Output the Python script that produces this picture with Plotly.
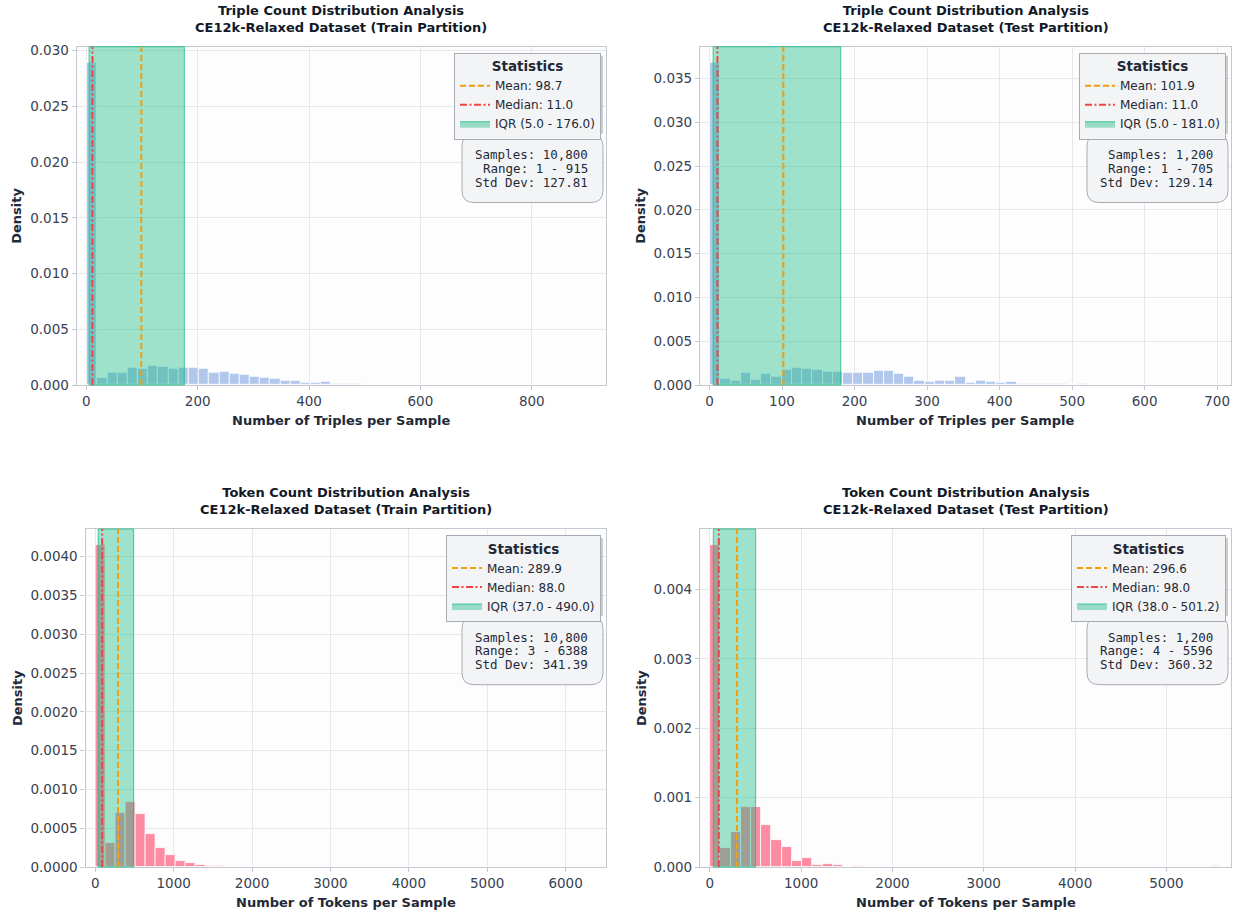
import numpy as np
import plotly.graph_objects as go

FIG_W, FIG_H = 1239, 917

# ---------------------------------------------------------------------------
# Histogram densities: 50 equal-width bins spanning [min, max] of each split
# ---------------------------------------------------------------------------
triple_train_density = [
    0.02890, 0.00065, 0.00113, 0.00107, 0.00152, 0.00143, 0.00170, 0.00164, 0.00150, 0.00152,
    0.00157, 0.00143, 0.00111, 0.00116, 0.00098, 0.00089, 0.00074, 0.00065, 0.00054, 0.00042,
    0.00036, 0.00024, 0.00021, 0.00027, 0.00015, 0.00009, 0.00011, 0.00006, 0.00003, 0.00002,
    0.00002, 0.00001, 0.00001, 0.00001, 0.00000, 0.00001, 0.00000, 0.00000, 0.00001, 0.00000,
    0.00000, 0.00000, 0.00000, 0.00000, 0.00000, 0.00000, 0.00000, 0.00000, 0.00000, 0.00001,
]
triple_test_density = [
    0.03680, 0.00068, 0.00046, 0.00140, 0.00059, 0.00125, 0.00091, 0.00179, 0.00198, 0.00182,
    0.00173, 0.00156, 0.00152, 0.00142, 0.00142, 0.00136, 0.00158, 0.00158, 0.00131, 0.00091,
    0.00047, 0.00036, 0.00047, 0.00047, 0.00097, 0.00024, 0.00047, 0.00036, 0.00021, 0.00036,
    0.00012, 0.00012, 0.00012, 0.00012, 0.00015, 0.00006, 0.00012, 0.00000, 0.00006, 0.00006,
    0.00000, 0.00000, 0.00006, 0.00000, 0.00000, 0.00000, 0.00000, 0.00000, 0.00000, 0.00006,
]
token_train_density = [
    0.004150, 0.000310, 0.000700, 0.000840, 0.000680, 0.000420, 0.000240, 0.000150, 0.000080, 0.000050,
    0.000028, 0.000016, 0.000010, 0.000006, 0.000004, 0.000003, 0.000002, 0.000002, 0.000001, 0.000001,
    0.000001, 0.000000, 0.000001, 0.000000, 0.000000, 0.000000, 0.000000, 0.000000, 0.000000, 0.000000,
    0.000000, 0.000000, 0.000000, 0.000000, 0.000000, 0.000000, 0.000000, 0.000000, 0.000000, 0.000000,
    0.000000, 0.000000, 0.000000, 0.000000, 0.000000, 0.000000, 0.000000, 0.000000, 0.000000, 0.000001,
]
token_test_density = [
    0.004640, 0.000280, 0.000510, 0.000870, 0.000870, 0.000600, 0.000395, 0.000290, 0.000090, 0.000130,
    0.000030, 0.000045, 0.000022, 0.000000, 0.000015, 0.000000, 0.000000, 0.000000, 0.000000, 0.000000,
    0.000000, 0.000000, 0.000000, 0.000000, 0.000000, 0.000000, 0.000000, 0.000000, 0.000000, 0.000000,
    0.000000, 0.000000, 0.000000, 0.000000, 0.000000, 0.000000, 0.000000, 0.000000, 0.000000, 0.000000,
    0.000000, 0.000000, 0.000000, 0.000000, 0.000000, 0.000000, 0.000000, 0.000000, 0.000000, 0.0000075,
]

# Summary statistics per panel (triple-train, triple-test, token-train, token-test)
sample_counts = [10800, 1200, 10800, 1200]
value_min = [1, 1, 3, 4]
value_max = [915, 705, 6388, 5596]
means = [98.7, 101.9, 289.9, 296.6]
medians = [11.0, 11.0, 88.0, 98.0]
q1s = [5.0, 5.0, 37.0, 38.0]
q3s = [176.0, 181.0, 490.0, 501.2]
std_devs = [127.81, 129.14, 341.39, 360.32]

titles = [
    "Triple Count Distribution Analysis<br>CE12k-Relaxed Dataset (Train Partition)",
    "Triple Count Distribution Analysis<br>CE12k-Relaxed Dataset (Test Partition)",
    "Token Count Distribution Analysis<br>CE12k-Relaxed Dataset (Train Partition)",
    "Token Count Distribution Analysis<br>CE12k-Relaxed Dataset (Test Partition)",
]
x_titles = [
    "Number of Triples per Sample",
    "Number of Triples per Sample",
    "Number of Tokens per Sample",
    "Number of Tokens per Sample",
]
densities = [triple_train_density, triple_test_density, token_train_density, token_test_density]
bar_colors = ["#b1c8ec", "#b1c8ec", "#fd8ca2", "#fd8ca2"]
x_dticks = [200, 100, 1000, 1000]
y_dticks = [0.005, 0.005, 0.0005, 0.001]
y_formats = [".3f", ".3f", ".4f", ".3f"]

# ---------------------------------------------------------------------------
# Panel geometry (pixels in the 1239x917 canvas)
# ---------------------------------------------------------------------------
plot_px = [  # left, right, top, bottom
    (76.7, 606.0, 46.7, 385.0),
    (700.0, 1231.0, 46.7, 385.0),
    (85.5, 606.0, 529.0, 867.0),
    (700.0, 1231.0, 529.0, 867.0),
]
legend_width_px = [147, 147, 157, 157]
legend_height_px = 79


def px_x(v):
    return v / FIG_W


def px_y(v):
    return 1 - v / FIG_H


def rounded_box(x0, y0, x1, y1, r):
    """SVG path (paper coords) for a rounded rectangle given in pixels."""

    def P(x, y):
        return f"{px_x(x):.5f},{px_y(y):.5f}"

    return " ".join([
        f"M {P(x0 + r, y0)}",
        f"L {P(x1 - r, y0)}",
        f"Q {P(x1, y0)} {P(x1, y0 + r)}",
        f"L {P(x1, y1 - r)}",
        f"Q {P(x1, y1)} {P(x1 - r, y1)}",
        f"L {P(x0 + r, y1)}",
        f"Q {P(x0, y1)} {P(x0, y1 - r)}",
        f"L {P(x0, y0 + r)}",
        f"Q {P(x0, y0)} {P(x0 + r, y0)} Z",
    ])


FONT = "DejaVu Sans"
MONO = "DejaVu Sans Mono"
TICK_COLOR = "#374151"
TEXT_DARK = "#1f2937"
GRID = "#e6e8ec"
SPINE = "#c4c8d0"
MEAN_COLOR = "#f59e0b"
MEDIAN_COLOR = "#ef4444"
IQR_FILL = "rgba(16,185,129,0.40)"
IQR_EDGE = "rgba(16,185,129,0.75)"
BOX_FILL = "#f3f4f6"
BOX_EDGE = "#a7abb4"

fig = go.Figure()
shapes = []
annotations = []

for i in range(4):
    n = "" if i == 0 else str(i + 1)
    xa, ya = f"x{n}", f"y{n}"
    legend_id = "legend" if i == 0 else f"legend{i + 1}"
    left, right, top, bottom = plot_px[i]

    lo, hi = value_min[i], value_max[i]
    dens = np.array(densities[i], dtype=float)
    edges = np.linspace(lo, hi, len(dens) + 1)
    centers = (edges[:-1] + edges[1:]) / 2
    bin_w = edges[1] - edges[0]
    span = hi - lo

    fig.add_trace(go.Bar(
        x=centers, y=dens, width=bin_w,
        marker=dict(color=bar_colors[i], line=dict(color="white", width=0.8)),
        xaxis=xa, yaxis=ya, showlegend=False, hoverinfo="skip",
    ))

    # legend entries
    fig.add_trace(go.Scatter(
        x=[None], y=[None], mode="lines", name=f"Mean: {means[i]:.1f}",
        line=dict(color=MEAN_COLOR, width=2, dash="6px,3px"),
        xaxis=xa, yaxis=ya, legend=legend_id,
    ))
    fig.add_trace(go.Scatter(
        x=[None], y=[None], mode="lines", name=f"Median: {medians[i]:.1f}",
        line=dict(color=MEDIAN_COLOR, width=2, dash="7px,2.5px,2px,2.5px"),
        xaxis=xa, yaxis=ya, legend=legend_id,
    ))
    fig.add_trace(go.Scatter(
        x=[None, None, None], y=[None, None, None], mode="lines", fill="toself",
        name=f"IQR ({q1s[i]:.1f} - {q3s[i]:.1f})",
        fillcolor=IQR_FILL, line=dict(color=IQR_EDGE, width=1),
        xaxis=xa, yaxis=ya, legend=legend_id,
    ))

    axis_common = dict(
        showgrid=True, gridcolor=GRID, gridwidth=0.8,
        showline=True, linecolor=SPINE, linewidth=1.2, mirror=True,
        ticks="outside", ticklen=4, tickcolor=SPINE, tickwidth=1,
        tickfont=dict(family=FONT, size=13.5, color=TICK_COLOR),
        zeroline=False, automargin=False,
    )
    fig.layout[f"xaxis{n}"] = dict(
        domain=[px_x(left), px_x(right)], anchor=ya,
        range=[lo - 0.02 * span, hi + 0.02 * span],
        dtick=x_dticks[i], tick0=0, **axis_common,
    )
    fig.layout[f"yaxis{n}"] = dict(
        domain=[px_y(bottom), px_y(top)], anchor=xa,
        range=[0, 1.05 * dens.max()],
        dtick=y_dticks[i], tick0=0, tickformat=y_formats[i], **axis_common,
    )

    # IQR band and reference lines
    shapes.append(dict(
        type="rect", xref=xa, yref=f"{ya} domain", x0=q1s[i], x1=q3s[i], y0=0, y1=1,
        fillcolor=IQR_FILL, line=dict(color=IQR_EDGE, width=1), layer="above",
    ))
    shapes.append(dict(
        type="line", xref=xa, yref=f"{ya} domain", x0=means[i], x1=means[i], y0=0, y1=1,
        line=dict(color=MEAN_COLOR, width=2, dash="6px,3px"), layer="above",
    ))
    shapes.append(dict(
        type="line", xref=xa, yref=f"{ya} domain", x0=medians[i], x1=medians[i], y0=0, y1=1,
        line=dict(color=MEDIAN_COLOR, width=2, dash="7px,2.5px,2px,2.5px"), layer="above",
    ))

    # legend box with a soft drop shadow behind it
    lg_right, lg_top = right - 5, top + 6
    shapes.append(dict(
        type="rect", xref="paper", yref="paper",
        x0=px_x(lg_right - legend_width_px[i] + 3), x1=px_x(lg_right + 2),
        y0=px_y(lg_top + legend_height_px + 2), y1=px_y(lg_top + 3),
        fillcolor="rgba(90,95,105,0.30)", line=dict(width=0), layer="above",
    ))
    fig.layout[legend_id] = dict(
        x=px_x(lg_right), y=px_y(lg_top), xanchor="right", yanchor="top",
        xref="paper", yref="paper",
        bgcolor=BOX_FILL, bordercolor=BOX_EDGE, borderwidth=1,
        font=dict(family=FONT, size=12, color=TEXT_DARK),
        title=dict(text="<b>Statistics</b>", side="top center",
                   font=dict(family=FONT, size=13.5, color=TEXT_DARK)),
        itemwidth=30, tracegroupgap=0, itemclick=False, itemdoubleclick=False,
    )

    # statistics text box
    box_cy = top + 0.36 * (bottom - top)
    bx1 = right - 3
    bx0 = bx1 - 141
    by0, by1 = box_cy - 34, box_cy + 34
    shapes.append(dict(
        type="path", xref="paper", yref="paper", path=rounded_box(bx0, by0, bx1, by1, 12),
        fillcolor=BOX_FILL, line=dict(color=BOX_EDGE, width=1), layer="above",
    ))
    stats_lines = [
        f"Samples: {sample_counts[i]:,}",
        f"Range: {value_min[i]} - {value_max[i]}",
        f"Std Dev: {std_devs[i]:.2f}",
    ]
    for k, line in enumerate(stats_lines):
        annotations.append(dict(
            text=line, xref="paper", yref="paper",
            x=px_x(bx1 - 13), y=px_y(box_cy + (k - 1) * 13.6),
            xanchor="right", yanchor="middle", showarrow=False,
            font=dict(family=MONO, size=12.5, color=TEXT_DARK),
        ))

    # panel title
    cx = (left + right) / 2
    annotations.append(dict(
        text=titles[i], xref="paper", yref="paper", x=px_x(cx), y=px_y(top - 27.5),
        xanchor="center", yanchor="middle", showarrow=False,
        font=dict(family=FONT, size=13, color="#111827", weight="bold"),
    ))
    # axis titles
    annotations.append(dict(
        text=x_titles[i], xref="paper", yref="paper", x=px_x(cx), y=px_y(bottom + 35),
        xanchor="center", yanchor="middle", showarrow=False,
        font=dict(family=FONT, size=13, color=TEXT_DARK, weight="bold"),
    ))
    annotations.append(dict(
        text="Density", xref="paper", yref="paper",
        x=px_x(17 if i % 2 == 0 else 641), y=px_y((top + bottom) / 2),
        xanchor="center", yanchor="middle", textangle=-90, showarrow=False,
        font=dict(family=FONT, size=13, color=TEXT_DARK, weight="bold"),
    ))

fig.update_layout(
    width=FIG_W, height=FIG_H,
    margin=dict(l=0, r=0, t=0, b=0),
    paper_bgcolor="white", plot_bgcolor="#fdfdfd",
    barmode="overlay", bargap=0,
    shapes=shapes, annotations=annotations,
    font=dict(family=FONT, color=TEXT_DARK),
)

fig.write_html("out.html")
